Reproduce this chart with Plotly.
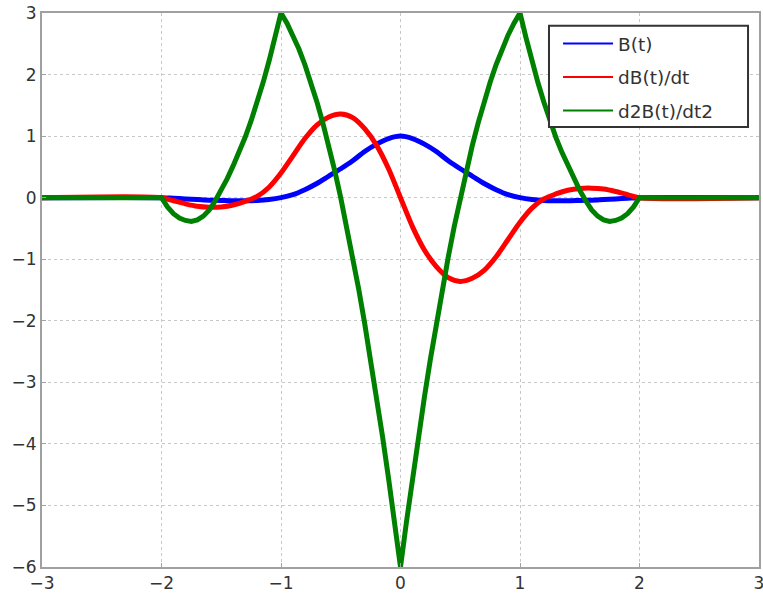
import plotly.graph_objects as go

# sample positions for B(t) and dB(t)/dt
t_curve = [-3.0, -2.0, -1.9, -1.8, -1.7, -1.6, -1.5, -1.4, -1.3, -1.2, -1.1, -1.0,
           -0.9, -0.8, -0.7, -0.6, -0.5, -0.4, -0.3, -0.2, -0.1, 0.0,
           0.1, 0.2, 0.3, 0.4, 0.5, 0.6, 0.7, 0.8, 0.9, 1.0,
           1.1, 1.2, 1.3, 1.4, 1.5, 1.6, 1.7, 1.8, 1.9, 2.0, 3.0]

b_vals = [0, 0, -0.01, -0.02, -0.03, -0.04, -0.045, -0.05, -0.05, -0.045, -0.03, 0.0,
          0.05, 0.13, 0.23, 0.35, 0.47, 0.60, 0.75, 0.87, 0.96, 1.0,
          0.96, 0.87, 0.75, 0.60, 0.47, 0.35, 0.23, 0.13, 0.05, 0.0,
          -0.03, -0.045, -0.05, -0.05, -0.045, -0.04, -0.03, -0.02, -0.01, 0, 0]

db_vals = [0, 0, -0.05, -0.10, -0.14, -0.155, -0.15, -0.12, -0.06, 0.02, 0.17, 0.40,
           0.68, 0.96, 1.18, 1.31, 1.36, 1.30, 1.12, 0.85, 0.47, 0.0,
           -0.47, -0.85, -1.12, -1.30, -1.36, -1.31, -1.18, -0.96, -0.68, -0.40,
           -0.17, -0.02, 0.06, 0.12, 0.15, 0.155, 0.14, 0.10, 0.05, 0, 0]

# sample positions for d2B(t)/dt2
t_d2 = [-3.0, -2.0, -1.95, -1.9, -1.85, -1.8, -1.75, -1.7, -1.65, -1.6, -1.55, -1.5,
        -1.45, -1.4, -1.35, -1.3, -1.25, -1.2, -1.15, -1.1, -1.05, -1.0,
        -0.95, -0.9, -0.85, -0.8, -0.75, -0.7, -0.65, -0.6, -0.55, -0.5,
        -0.45, -0.4, -0.35, -0.3, -0.25, -0.2, -0.15, -0.1, -0.05, 0.0,
        0.05, 0.1, 0.15, 0.2, 0.25, 0.3, 0.35, 0.4, 0.45, 0.5,
        0.55, 0.6, 0.65, 0.7, 0.75, 0.8, 0.85, 0.9, 0.95, 1.0,
        1.05, 1.1, 1.15, 1.2, 1.25, 1.3, 1.35, 1.4, 1.45, 1.5,
        1.55, 1.6, 1.65, 1.7, 1.75, 1.8, 1.85, 1.9, 1.95, 2.0, 3.0]

d2b_vals = [0, 0, -0.15, -0.26, -0.33, -0.37, -0.385, -0.36, -0.30, -0.20, -0.05, 0.12,
            0.31, 0.52, 0.74, 0.98, 1.25, 1.55, 1.87, 2.22, 2.60, 3.0,
            2.835, 2.64, 2.415, 2.16, 1.875, 1.56, 1.215, 0.84, 0.435, 0.0,
            -0.465, -0.96, -1.485, -2.04, -2.625, -3.24, -3.885, -4.56, -5.265, -6.0,
            -5.265, -4.56, -3.885, -3.24, -2.625, -2.04, -1.485, -0.96, -0.465, 0.0,
            0.435, 0.84, 1.215, 1.56, 1.875, 2.16, 2.415, 2.64, 2.835, 3.0,
            2.60, 2.22, 1.87, 1.55, 1.25, 0.98, 0.74, 0.52, 0.31, 0.12,
            -0.05, -0.20, -0.30, -0.36, -0.385, -0.37, -0.33, -0.26, -0.15, 0, 0]

series_names = ["B(t)", "dB(t)/dt", "d2B(t)/dt2"]
series_colors = ["#0000ff", "#ff0000", "#008000"]

fig = go.Figure()
fig.add_trace(go.Scatter(x=t_curve, y=b_vals, mode="lines", showlegend=False,
                         line=dict(color=series_colors[0], width=5, shape="spline", smoothing=0.8)))
fig.add_trace(go.Scatter(x=t_curve, y=db_vals, mode="lines", showlegend=False,
                         line=dict(color=series_colors[1], width=5, shape="spline", smoothing=0.8)))
fig.add_trace(go.Scatter(x=t_d2, y=d2b_vals, mode="lines", showlegend=False,
                         line=dict(color=series_colors[2], width=5)))

# legend entries (thin line like the reference legend)
for i, (nm, col) in enumerate(zip(series_names, series_colors)):
    fig.add_trace(go.Scatter(x=[None], y=[None], mode="lines", name=nm,
                             line=dict(color=col, width=2),
                             legendgroup=f"g{i}"))

axis_common = dict(
    showgrid=True, gridcolor="#c8c8c8", griddash="dot", gridwidth=1,
    showline=True, linecolor="#a0a0a0", linewidth=2, mirror=True,
    ticks="inside", ticklen=4, tickcolor="#a0a0a0",
    zeroline=False, automargin=False, ticklabeloverflow="allow",
    tickfont=dict(family="DejaVu Sans", size=17, color="#333333"),
)

fig.update_xaxes(range=[-3, 3], tickvals=[-3, -2, -1, 0, 1, 2, 3], **axis_common)
fig.update_yaxes(range=[-6, 3], tickvals=[-6, -5, -4, -3, -2, -1, 0, 1, 2, 3], **axis_common)

fig.update_layout(
    width=763, height=593,
    margin=dict(l=42, r=4, t=13, b=26),
    plot_bgcolor="white", paper_bgcolor="white",
    font=dict(family="DejaVu Sans", color="#333333"),
    showlegend=True,
    legend=dict(x=0.7197, y=0.9786, xanchor="left", yanchor="top",
                bgcolor="rgba(0,0,0,0)", borderwidth=0,
                font=dict(family="DejaVu Sans", size=18.5, color="#333333"),
                tracegroupgap=6.5, itemwidth=50),
    shapes=[dict(type="rect", xref="paper", yref="paper",
                 x0=0.7071, x1=0.9847, y0=0.7942, y1=0.9771,
                 line=dict(color="#333333", width=2), fillcolor="white", layer="above")],
)

fig.write_html("out.html")
